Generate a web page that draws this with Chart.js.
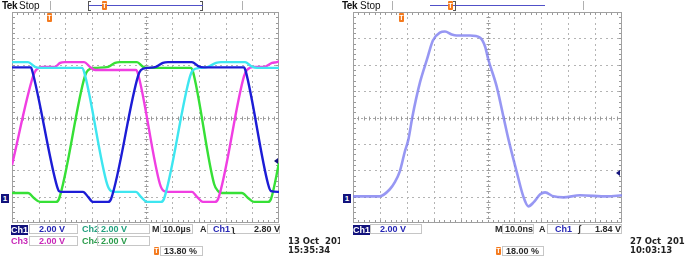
<!DOCTYPE html>
<html>
<head>
<meta charset="utf-8">
<script src="https://cdn.jsdelivr.net/npm/chart.js@4.4.0/dist/chart.umd.min.js"></script>
<style>
body { margin: 0; background: #fff; }
#tela { position: relative; width: 685px; height: 257px; overflow: hidden; background: #fff; }
.painel { position: absolute; top: 0; height: 257px; overflow: hidden; font-family: "Liberation Sans", Arial, sans-serif; font-size: 9px; font-weight: bold; color: #2a2a2a; }
.painel canvas { position: absolute; left: 0; top: 0; }
.t { position: absolute; white-space: nowrap; line-height: 10px; height: 10px; }
.caixa { position: absolute; height: 10px; box-sizing: border-box; border: 1px solid #c6c6c6; line-height: 8px; white-space: nowrap; }
.tag { position: absolute; height: 10px; background: #12127c; color: #fff; line-height: 10px; text-align: center; }
.tek { position: absolute; top: 0; line-height: 11px; white-space: nowrap; color: #111; }
.vline { position: absolute; top: 1px; width: 1px; height: 9px; background: #b0b0b0; }
.azul { position: absolute; top: 5px; height: 1px; background: #5050c8; }
.laranja { position: absolute; width: 5px; height: 9px; background: #f47a1e; border-radius: 1px; color: #fff; font-size: 7px; line-height: 9px; text-align: center; }
.terra { position: absolute; top: 194px; width: 8px; height: 9px; background: #12127c; color: #fff; font-size: 8px; line-height: 9px; text-align: center; }
.nivel { position: absolute; width: 0; height: 0; border-top: 3px solid transparent; border-bottom: 3px solid transparent; border-right: 4px solid #12127c; }
.data { position: absolute; font-family: "DejaVu Sans", sans-serif; font-size: 8.5px; line-height: 9px; white-space: nowrap; color: #222; }
.colchete { position: absolute; top: 1px; width: 2px; height: 8px; border: 1px solid #555; }
</style>
</head>
<body>
<div id="tela">

<div class="painel" style="left:0;width:340px;">
  <canvas id="graficoCanais" width="290" height="257"></canvas>
  <div class="tek" style="left:2px;font-size:10px;font-weight:bold;letter-spacing:-0.5px;">Tek</div>
  <div class="tek" style="left:19px;font-size:10px;font-weight:normal;">Stop</div>
  <div class="vline" style="left:50px;"></div>
  <div class="vline" style="left:242px;"></div>
  <div class="colchete" style="left:88px;border-right:none;"></div>
  <div class="colchete" style="left:200px;border-left:none;"></div>
  <div class="azul" style="left:89px;width:114px;"></div>
  <div class="laranja" style="left:102px;top:1px;">T</div>
  <div class="laranja" style="left:47px;top:13px;">T</div>
  <div class="terra" style="left:1px;">1</div>
  <div class="nivel" style="left:274px;top:158px;"></div>

  <div class="tag" style="left:11px;top:225px;width:17px;">Ch1</div>
  <div class="caixa" style="left:29px;top:224px;width:49px;padding-left:9px;color:#2626b4;">2.00 V</div>
  <div class="t" style="left:82px;top:224px;color:#22a07e;">Ch2</div>
  <div class="caixa" style="left:97px;top:224px;width:53px;padding-left:3px;color:#22a07e;">2.00 V</div>
  <div class="t" style="left:152px;top:224px;">M</div>
  <div class="caixa" style="left:160px;top:224px;width:33px;padding-left:2px;">10.0µs</div>
  <div class="t" style="left:200px;top:224px;">A</div>
  <div class="caixa" style="left:207px;top:224px;width:73px;"></div>
  <div class="t" style="left:213px;top:224px;color:#2626b4;">Ch1</div>
  <div class="t" style="left:232px;top:224px;">ʅ</div>
  <div class="t" style="left:254px;top:224px;">2.80 V</div>

  <div class="t" style="left:11px;top:236px;color:#c828b8;">Ch3</div>
  <div class="caixa" style="left:29px;top:236px;width:49px;padding-left:9px;color:#c828b8;">2.00 V</div>
  <div class="t" style="left:82px;top:236px;color:#2c9c4c;">Ch4</div>
  <div class="caixa" style="left:97px;top:236px;width:53px;padding-left:3px;color:#2c9c4c;">2.00 V</div>

  <div class="laranja" style="left:154px;top:247px;height:8px;line-height:8px;">T</div>
  <div class="caixa" style="left:160px;top:246px;width:43px;padding-left:3px;">13.80 %</div>
  <div class="data" style="left:288px;top:237px;">13 Oct&nbsp;&nbsp;2016</div>
  <div class="data" style="left:288px;top:246px;">15:35:34</div>
</div>

<div class="painel" style="left:340px;width:345px;">
  <canvas id="graficoPulso" width="345" height="257"></canvas>
  <div class="tek" style="left:2px;font-size:10px;font-weight:bold;letter-spacing:-0.5px;">Tek</div>
  <div class="tek" style="left:20px;font-size:10px;font-weight:normal;">Stop</div>
  <div class="vline" style="left:52px;"></div>
  <div class="vline" style="left:243px;"></div>
  <div class="azul" style="left:90px;width:115px;"></div>
  <div class="laranja" style="left:108px;top:1px;">T</div>
  <div class="colchete" style="left:113px;border-left:none;"></div>
  <div class="laranja" style="left:59px;top:13px;">T</div>
  <div class="terra" style="left:3px;">1</div>
  <div class="nivel" style="left:276px;top:170px;"></div>

  <div class="tag" style="left:13px;top:225px;width:17px;">Ch1</div>
  <div class="caixa" style="left:30px;top:224px;width:52px;padding-left:9px;color:#2626b4;">2.00 V</div>
  <div class="t" style="left:155px;top:224px;">M</div>
  <div class="caixa" style="left:162px;top:224px;width:32px;padding-left:2px;">10.0ns</div>
  <div class="t" style="left:199px;top:224px;">A</div>
  <div class="caixa" style="left:207px;top:224px;width:75px;"></div>
  <div class="t" style="left:215px;top:224px;color:#2626b4;">Ch1</div>
  <div class="t" style="left:238px;top:224px;">ʃ</div>
  <div class="t" style="left:255px;top:224px;">1.84 V</div>

  <div class="laranja" style="left:156px;top:247px;height:8px;line-height:8px;">T</div>
  <div class="caixa" style="left:162px;top:246px;width:42px;padding-left:3px;">18.00 %</div>
  <div class="data" style="left:290px;top:237px;">27 Oct&nbsp;&nbsp;2016</div>
  <div class="data" style="left:290px;top:246px;">10:03:13</div>
</div>

</div>

<script>
// Tela 1: tempo em µs (10 µs/div), tensão em divisões
const ch1Tempo = [0, 7.1, 7.5, 16.5, 17.6, 18.7, 26.6, 28.5, 30.3, 36.0, 37.1, 47.2, 48.3, 50.6, 53.9, 56.5, 58.4, 67.4, 69.7, 71.9, 86.9, 87.6, 95.9, 97.0, 100];
const ch1Valor = [1.90, 1.90, 1.80, -2.48, -2.79, -2.82, -2.82, -3.01, -3.20, -3.20, -3.09, 1.57, 1.80, 1.88, 1.92, 2.07, 2.10, 2.10, 1.95, 1.90, 1.90, 1.73, -2.52, -2.79, -2.82];

const ch2Tempo = [0, 6.0, 8.6, 10.5, 26.2, 27.0, 35.6, 37.1, 38.6, 46.4, 48.3, 50.6, 55.8, 56.9, 66.7, 67.8, 70.4, 73.4, 76.4, 78.3, 87.3, 89.5, 91.8, 100];
const ch2Valor = [2.10, 2.10, 1.92, 1.88, 1.88, 1.73, -2.52, -2.79, -2.82, -2.82, -3.01, -3.20, -3.20, -3.09, 1.57, 1.80, 1.88, 1.92, 2.07, 2.10, 2.10, 1.95, 1.88, 1.88];

const ch3Tempo = [0, 7.9, 9.0, 11.6, 16.1, 18.0, 19.8, 27.0, 29.2, 31.1, 46.4, 47.2, 55.4, 56.9, 58.4, 67.4, 69.3, 71.5, 76.0, 77.2, 86.9, 88.0, 90.6, 94.4, 97.4, 99.2, 100];
const ch3Valor = [-1.80, 1.57, 1.80, 1.92, 1.92, 2.07, 2.10, 2.10, 1.92, 1.80, 1.80, 1.65, -2.52, -2.79, -2.82, -2.82, -3.01, -3.20, -3.20, -3.09, 1.57, 1.80, 1.92, 1.92, 2.07, 2.10, 2.14];

const ch4Tempo = [0, 6.0, 8.2, 10.5, 16.5, 17.6, 27.3, 28.5, 31.1, 36.0, 38.6, 40.4, 46.8, 49.1, 50.9, 67.0, 67.8, 75.7, 77.2, 78.6, 86.1, 88.4, 90.6, 95.9, 97.0, 100];
const ch4Valor = [-2.86, -2.86, -3.05, -3.20, -3.20, -3.09, 1.57, 1.80, 1.88, 1.92, 2.07, 2.10, 2.10, 1.92, 1.88, 1.88, 1.73, -2.52, -2.79, -2.86, -2.86, -3.05, -3.20, -3.20, -3.09, -1.73];

// Tela 2: tempo em ns (10 ns/div)
const pulsoTempo = [0, 9.9, 13.7, 15.5, 17.4, 19.3, 20.6, 22.1, 24.9, 27.5, 29.7, 32.3, 34.2, 36.7, 38.5, 43.5, 47.2, 49.1, 50.3, 53.4, 55.9, 57.8, 60.9, 63.3, 65.2, 67.1, 69.6, 71.4, 74.5, 78.2, 84.4, 94.4, 100];
const pulsoValor = [-2.99, -2.99, -2.72, -2.46, -2.04, -1.28, -0.83, 0.04, 1.33, 2.20, 2.92, 3.22, 3.26, 3.15, 3.11, 3.11, 3.03, 2.69, 2.20, 1.18, 0.04, -0.83, -2.08, -2.99, -3.37, -3.22, -2.91, -2.84, -2.99, -3.03, -2.95, -2.99, -2.95];

function pontos(tempo, valor) {
    return tempo.map((t, i) => ({ x: t, y: valor[i] }));
}

/* Grade do osciloscopio */
const grade = {
    id: 'grade',
    beforeDatasetsDraw(chart) {
        const { ctx, chartArea: a, scales } = chart;
        const sx = scales.x, sy = scales.y;
        ctx.save();

        // linhas pontilhadas
        ctx.fillStyle = '#b4b4b4';
        for (let i = 1; i < 10; i++) {
            if (i === 5) continue;
            const gx = Math.round(sx.getPixelForValue(i * 10));
            for (let k = 1; k < 40; k++) {
                ctx.fillRect(gx, Math.round(sy.getPixelForValue(-4 + k * 0.2)), 1, 2);
            }
        }
        for (let j = 1; j < 8; j++) {
            if (j === 4) continue;
            const gy = Math.round(sy.getPixelForValue(-4 + j));
            for (let k = 1; k < 50; k++) {
                ctx.fillRect(Math.round(sx.getPixelForValue(k * 2)), gy, 2, 1);
            }
        }

        // eixos centrais
        const cx = Math.round(sx.getPixelForValue(50)) + 0.5;
        const cy = Math.round(sy.getPixelForValue(0)) + 0.5;
        ctx.strokeStyle = '#aaaaaa';
        ctx.lineWidth = 1;
        ctx.setLineDash([2, 2]);
        ctx.beginPath();
        ctx.moveTo(cx, a.top); ctx.lineTo(cx, a.bottom);
        ctx.moveTo(a.left, cy); ctx.lineTo(a.right, cy);
        ctx.stroke();
        ctx.setLineDash([]);

        ctx.strokeStyle = '#999999';
        ctx.beginPath();
        for (let k = 1; k < 50; k++) {
            const tx = Math.round(sx.getPixelForValue(k * 2)) + 0.5;
            ctx.moveTo(tx, cy - 2); ctx.lineTo(tx, cy + 2);
            ctx.moveTo(tx, a.top); ctx.lineTo(tx, a.top + 3);
            ctx.moveTo(tx, a.bottom); ctx.lineTo(tx, a.bottom - 3);
        }
        for (let k = 1; k < 40; k++) {
            const ty = Math.round(sy.getPixelForValue(-4 + k * 0.2)) + 0.5;
            ctx.moveTo(cx - 2, ty); ctx.lineTo(cx + 2, ty);
            ctx.moveTo(a.left, ty); ctx.lineTo(a.left + 3, ty);
            ctx.moveTo(a.right, ty); ctx.lineTo(a.right - 3, ty);
        }
        ctx.stroke();

        // moldura
        ctx.strokeStyle = '#a0a0a0';
        ctx.strokeRect(Math.round(a.left) + 0.5, Math.round(a.top) + 0.5, Math.round(a.right - a.left) - 1, Math.round(a.bottom - a.top) - 1);
        ctx.restore();
    }
};

function opcoes(tmax, padding) {
    return {
        responsive: false,
        animation: false,
        layout: { padding: padding },
        plugins: { legend: { display: false }, tooltip: { enabled: false } },
        elements: { point: { radius: 0 } },
        scales: {
            x: { type: 'linear', min: 0, max: tmax, display: false },
            y: { type: 'linear', min: -4, max: 4, display: false }
        }
    };
}

const ctx1 = document.getElementById('graficoCanais').getContext('2d');
const graficoCanais = new Chart(ctx1, {
    type: 'line',
    data: {
        datasets: [
            { label: 'Ch1', data: pontos(ch1Tempo, ch1Valor), borderColor: '#1c1cd6', borderWidth: 2.4, cubicInterpolationMode: 'monotone' },
            { label: 'Ch2', data: pontos(ch2Tempo, ch2Valor), borderColor: '#3ee6f0', borderWidth: 2.4, cubicInterpolationMode: 'monotone' },
            { label: 'Ch3', data: pontos(ch3Tempo, ch3Valor), borderColor: '#f03ee2', borderWidth: 2.4, cubicInterpolationMode: 'monotone' },
            { label: 'Ch4', data: pontos(ch4Tempo, ch4Valor), borderColor: '#36e036', borderWidth: 2.4, cubicInterpolationMode: 'monotone' }
        ]
    },
    options: opcoes(100, { left: 12, top: 12, right: 11, bottom: 34 }),
    plugins: [grade]
});

const ctx2 = document.getElementById('graficoPulso').getContext('2d');
const graficoPulso = new Chart(ctx2, {
    type: 'line',
    data: {
        datasets: [
            { label: 'Ch1', data: pontos(pulsoTempo, pulsoValor), borderColor: 'rgba(125,125,240,0.8)', borderWidth: 2.6, cubicInterpolationMode: 'monotone' }
        ]
    },
    options: opcoes(100, { left: 13, top: 12, right: 63, bottom: 34 }),
    plugins: [grade]
});
</script>
</body>
</html>
